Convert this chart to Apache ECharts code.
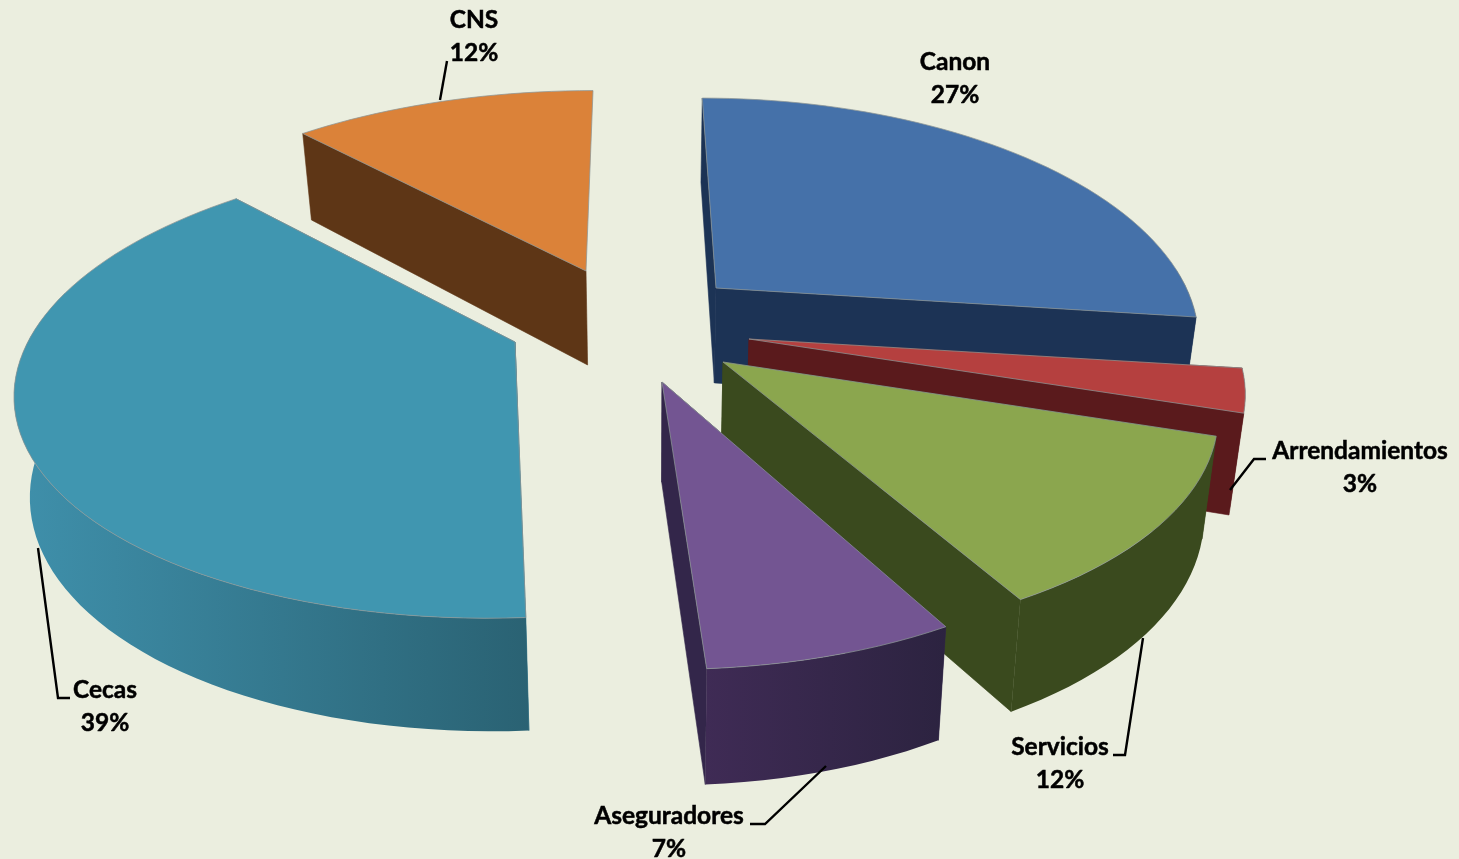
<!DOCTYPE html>
<html><head><meta charset="utf-8">
<style>html,body{margin:0;padding:0;background:#EBEEDF}#c{width:1459px;height:859px}</style>
<script src="https://cdn.jsdelivr.net/npm/echarts@6/dist/echarts.min.js"></script>
</head><body><div id="c"></div>
<script>
const categories = ['Canon','Arrendamientos','Servicios','Aseguradores','Cecas','CNS'];
const shares = [27,3,12,7,39,12];
const topColors = ['#4571A9','#B5403F','#8BA64E','#735592','#4096B0','#DB8239'];
const cutColors = ['#1C3355','#5A1A1C','#3A4A1E','#33264A','#2F7288','#5E3616'];
const wallLeft  = ['#1C3355','#5A1A1C','#3A4A1E','#3F2B55','#3F90AB','#5E3616'];
const wallRight = ['#1C3355','#5A1A1C','#3A4A1E','#2C2340','#2A6273','#5E3616'];
// layout of the exploded slices (apex of every slice on the page, and its scale)
const apexX = [716,749,723,662,515,586];
const apexY = [288,339,362,382,342,271];
const scaleX = [0.98,1.005,1.005,1.0,1.015,1.0];
const scaleY = [1.0,1.0,1.0,1.03,0.99,0.95];
const showLastCut = [true,true,true,true,true,false];
const labelX = [955,1360,1060,669,105,474];
const labelY = [79,468,764,833,707,37];
const leaderX = [[],[1230,1254,1266],[1143,1125,1113],[826,765,750],[38,58,70],[440,447]];
const leaderY = [[],[490,459,459],[638,755,755],[766,824,824],[548,698,698],[100,61]];

const START_DEG = 0, RX = 480, RY = 226, PERSP = 0.19, VANISH_X = 630;
const total = shares.reduce((a,b)=>a+b,0);
const starts = []; let acc = START_DEG;
shares.forEach(v=>{starts.push(acc); acc += v/total*360;});

function proj(i,deg){
  const t = deg*Math.PI/180, X = Math.sin(t), Y = Math.cos(t), w = 1+PERSP*Y;
  const ax = apexX[i], ay = apexY[i];
  return [ax+RX*scaleX[i]*X/w+(ax-VANISH_X)*(1/w-1), ay-RY*scaleY[i]*Y/w];
}
function drop(p){
  return [p[0]+(650-p[0])*0.025, p[1]+95+(p[1]-290)*0.055];
}
function poly(points, fill, stroke, lw){
  return {type:'polygon', shape:{points}, style:{fill, stroke:stroke||fill, lineWidth:lw===undefined?0.6:lw}, silent:true};
}
function renderItem(params, api){
  const i = params.dataIndex, v = api.value(0);
  const a0 = starts[i], a1 = a0 + v/total*360;
  const apex = [apexX[i],apexY[i]], apexB = drop(apex);
  const arc = [], wallTop = [];
  const n = Math.max(4, Math.ceil((a1-a0)/2));
  for(let k=0;k<=n;k++){
    const deg = a0+(a1-a0)*k/n, p = proj(i,deg);
    arc.push(p);
    if(deg>=85 && deg<=285) wallTop.push(p);
  }
  const first = arc[0], last = arc[arc.length-1];
  const wallFill = new echarts.graphic.LinearGradient(0,0,1,0,[
    {offset:0,color:wallLeft[i]},{offset:1,color:wallRight[i]}]);
  const children = [poly([apex,first,drop(first),apexB], cutColors[i])];
  if(showLastCut[i]) children.push(poly([apex,last,drop(last),apexB], cutColors[i]));
  if(wallTop.length>1) children.push(poly(wallTop.concat(wallTop.map(drop).reverse()), wallFill, 'none', 0));
  children.push(poly([apex].concat(arc), topColors[i], 'rgba(140,150,150,0.75)', 1));
  if(leaderX[i].length){
    children.push({type:'polyline', silent:true,
      shape:{points:leaderX[i].map((x,k)=>[x,leaderY[i][k]])},
      style:{stroke:'#000',lineWidth:2.4,fill:'none'}});
  }
  children.push({type:'text', silent:true, x:labelX[i], y:labelY[i],
    style:{text:categories[i]+'\n'+v+'%', fill:'#000', stroke:'#000', lineWidth:0.5, align:'center', verticalAlign:'middle',
      font:'bold 24.5px Lato', lineHeight:33}});
  return {type:'group', children};
}
const chart = echarts.init(document.getElementById('c'), null, {renderer:'canvas', width:1459, height:859});
chart.setOption({
  animation:false,
  backgroundColor:'#EBEEDF',
  series:[{type:'custom', coordinateSystem:'none', silent:true, renderItem,
    data: shares.map(v=>[v])}]
});
</script></body></html>
